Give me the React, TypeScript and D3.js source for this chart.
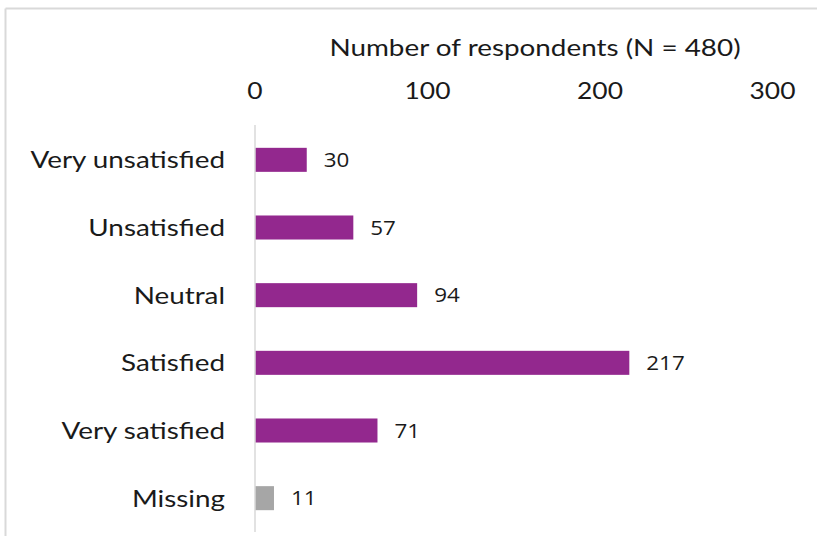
import React from "react";
import * as d3 from "d3";

const categories = ["Very unsatisfied", "Unsatisfied", "Neutral", "Satisfied", "Very satisfied", "Missing"];
const values = [30, 57, 94, 217, 71, 11];
const barColors = ["#93288E", "#93288E", "#93288E", "#93288E", "#93288E", "#A6A6A6"];
const ticks = [0, 100, 200, 300];
const title = "Number of respondents (N = 480)";

const SX = 1.16;
const font = "Lato, 'Open Sans', sans-serif";

function SText(props: { x: number; y: number; anchor: string; size: number; family?: string; sx?: number; children: React.ReactNode }) {
  const sx = props.sx ?? SX;
  return (
    <text
      transform={`translate(${props.x},${props.y}) scale(${sx},1)`}
      textAnchor={props.anchor}
      fontFamily={props.family ?? font}
      fontSize={props.size}
      fill="#1a1a1a"
    >
      {props.children}
    </text>
  );
}

export default function App() {
  const W = 817, H = 536;
  const x = d3.scaleLinear().domain([0, 300]).range([255, 772.5]);
  const y = d3.scaleBand<string>().domain(categories).range([126, 532]).paddingInner(0.645).paddingOuter(0.3225);
  return (
    <svg width={W} height={H} style={{ position: "absolute", left: 0, top: 0, background: "#fff" }}>
      <rect x={0} y={0} width={W} height={H} fill="#fff" />
      <line x1={5.5} y1={8.5} x2={W} y2={8.5} stroke="#D9D9D9" strokeWidth={2} />
      <line x1={5.5} y1={8.5} x2={5.5} y2={H} stroke="#D9D9D9" strokeWidth={2} />
      <SText x={535} y={56} anchor="middle" size={24}>{title}</SText>
      {ticks.map((t) => (
        <SText key={t} x={x(t)} y={99} anchor="middle" size={24} sx={1.1}>{t}</SText>
      ))}
      {categories.map((c, i) => {
        const cy = (y(c) as number) + y.bandwidth() / 2;
        return (
          <g key={c}>
            <rect x={x(0)} y={y(c)} width={x(values[i]) - x(0)} height={y.bandwidth()} fill={barColors[i]} />
            <SText x={225} y={cy + 8.5} anchor="end" size={24}>{c}</SText>
            <SText x={x(values[i]) + 17} y={cy + 7} anchor="start" size={20} family="'Open Sans', sans-serif" sx={1.12}>{values[i]}</SText>
          </g>
        );
      })}
      <line x1={x(0)} y1={125} x2={x(0)} y2={532} stroke="#D9D9D9" strokeWidth={1.5} />
    </svg>
  );
}
